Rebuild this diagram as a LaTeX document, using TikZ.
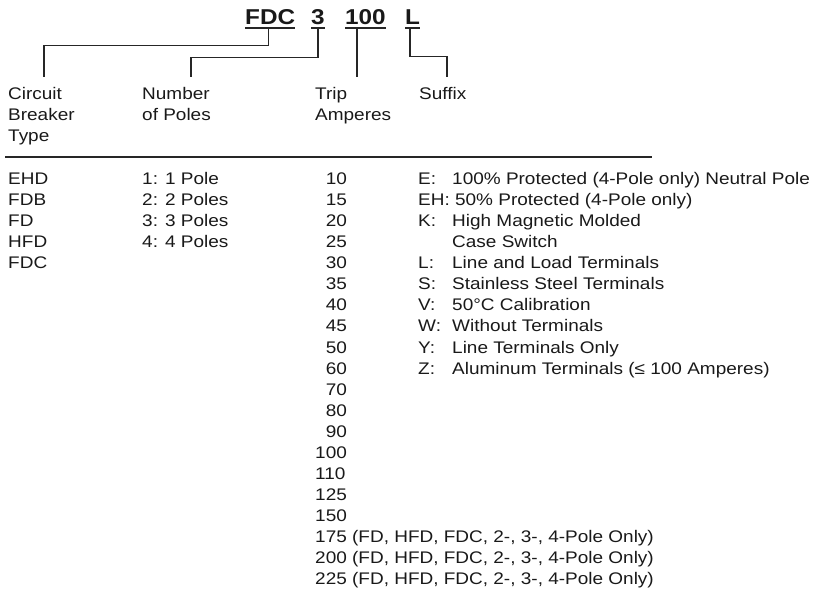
\documentclass[tikz,border=0pt]{standalone}
\usepackage{fontspec}
\setmainfont[FakeStretch=1.13]{Liberation Sans}
\begin{document}
\begin{tikzpicture}[x=1pt,y=-1pt,
  txt/.style={font=\fontsize{16.8}{21}\selectfont, inner sep=0pt, anchor=base west, text=black!90},
  ttl/.style={font=\fontsize{21.5}{25}\selectfont\bfseries, inner sep=0pt, anchor=base west, text=black!90},
  conn/.style={line width=1.2pt, draw=black!85},
  uline/.style={line width=2pt, draw=black!85},
  rule/.style={line width=1.5pt, draw=black!85}]
\useasboundingbox (0,0) rectangle (820,596);
% title
\node[ttl] (tFDC) at (245,25) {FDC};
\node[ttl] (t3) at (311,25) {3};
\node[ttl] (t100) at (345,25) {100};
\node[ttl] (tL) at (405,25) {L};
\foreach \n in {tFDC,t3,t100,tL}
  \draw[uline] ([yshift=-3pt]\n.south west) -- ([yshift=-3pt]\n.south east);
% header labels
\node[txt] (hCB1) at (8,100) {Circuit};
\node[txt] (hCB2) at (8,121) {Breaker};
\node[txt] (hCB3) at (8,142) {Type};
\node[txt] (hNP1) at (142,100) {Number};
\node[txt] (hNP2) at (142,121) {of Poles};
\node[txt] (hTA1) at (315,100) {Trip};
\node[txt] (hTA2) at (315,121) {Amperes};
\node[txt] (hSU1) at (419,100) {Suffix};
% connector ends
\coordinate (cbEnd) at (44,77.5);
\coordinate (npEnd) at (191,77.5);
\coordinate (taEnd) at (357,77.5);
\coordinate (suEnd) at (447,77.5);
\draw[conn] ([xshift=-2pt,yshift=-3pt]tFDC.south) -- ++(0,17) -| (cbEnd);
\draw[conn] ([yshift=-3pt]t3.south) -- ++(0,29) -| (npEnd);
\draw[conn] ([yshift=-3pt]t100.south west) ++(12,0) -- (taEnd);
\draw[conn] ([xshift=5pt,yshift=-3pt]tL.south west) -- ++(0,28) -| (suEnd);
% rule
\draw[rule] (5,157) -- (652,157);
% types
\foreach \t [count=\i from 0] in {EHD,FDB,FD,HFD,FDC}
  \node[txt] (ty\i) at (8,185+21*\i) {\t};
% poles
\foreach \t [count=\i from 0] in {1: 1 Pole,2: 2 Poles,3: 3 Poles,4: 4 Poles}
  \node[txt] (po\i) at (142,185+21*\i) {\t};
% amps
\foreach \t [count=\i from 0] in {10,15,20,25,30,35,40,45,50,60,70,80,90}
  \node[txt] (am\i) at (315,185+21*\i) {\phantom{0}\t};
\foreach \t [count=\i from 13] in {100,110,125,150}
  \node[txt] (am\i) at (315,185+21*\i) {\t};
\node[txt] (am17) at (315,185+21*17) {175 (FD, HFD, FDC, 2-, 3-, 4-Pole Only)};
\node[txt] (am18) at (315,185+21*18) {200 (FD, HFD, FDC, 2-, 3-, 4-Pole Only)};
\node[txt] (am19) at (315,185+21*19) {225 (FD, HFD, FDC, 2-, 3-, 4-Pole Only)};
% suffixes
\node[txt] (su0) at (418,185) {\makebox[34pt][l]{E:}100\% Protected (4-Pole only) Neutral Pole};
\node[txt] (su1) at (418,206) {EH: 50\% Protected (4-Pole only)};
\node[txt] (su2) at (418,227) {\makebox[34pt][l]{K:}High Magnetic Molded};
\node[txt] (su3) at (452,248) {Case Switch};
\node[txt] (su4) at (418,269) {\makebox[34pt][l]{L:}Line and Load Terminals};
\node[txt] (su5) at (418,290) {\makebox[34pt][l]{S:}Stainless Steel Terminals};
\node[txt] (su6) at (418,311) {\makebox[34pt][l]{V:}50°C Calibration};
\node[txt] (su7) at (418,332) {\makebox[34pt][l]{W:}Without Terminals};
\node[txt] (su8) at (418,353) {\makebox[34pt][l]{Y:}Line Terminals Only};
\node[txt] (su9) at (418,374) {\makebox[34pt][l]{Z:}Aluminum Terminals (≤ 100 Amperes)};
\end{tikzpicture}
\end{document}
